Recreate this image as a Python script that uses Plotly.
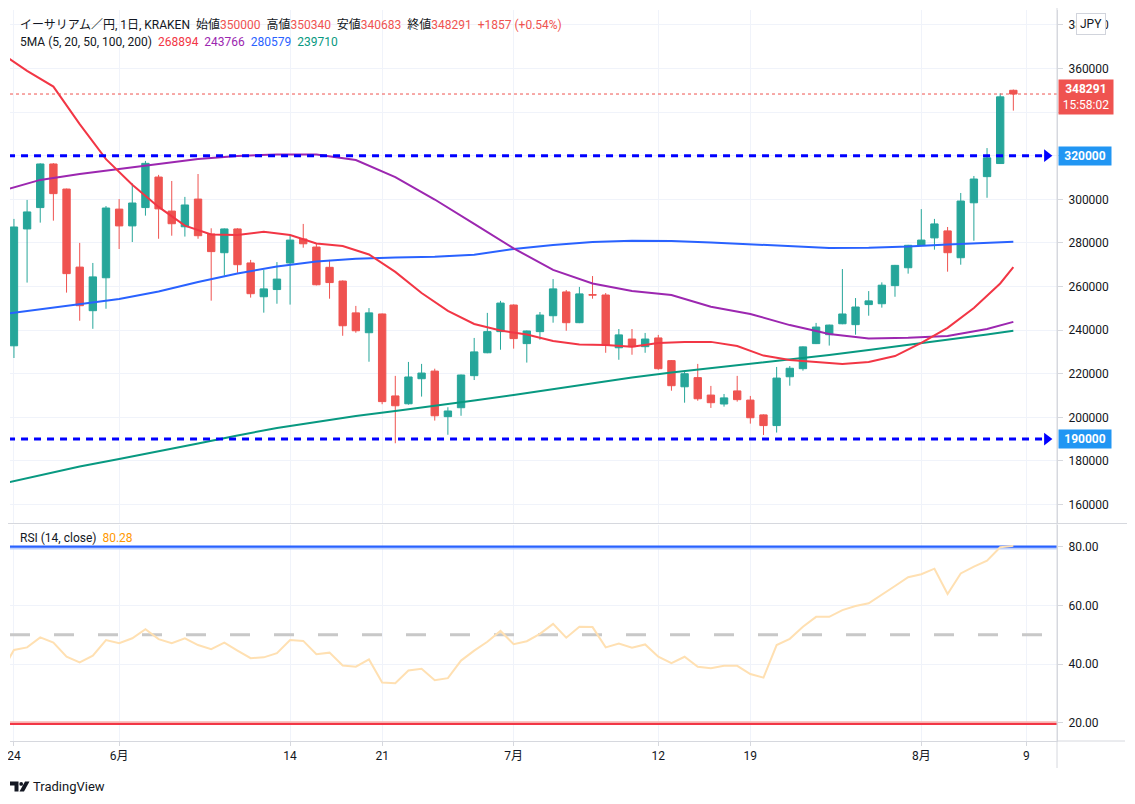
import plotly.graph_objects as go

# ---------------- data ----------------
tick_idx = [0, 8, 21, 28, 38, 49, 56, 69, 77]
tick_text = ["24", "6月", "14", "21", "7月", "12", "19", "8月", "9"]

opens = [232800, 286400, 296200, 316200, 304700, 268900, 248900, 264000, 295500, 287800,
         296200, 310200, 294600, 287400, 300100, 284100, 275500, 286400, 270800, 255300,
         258600, 270800, 281800, 278100, 268800, 262500, 247900, 238800, 247400, 209800,
         206200, 217700, 221200, 200300, 204400, 219100, 229600, 239300, 251500, 233800,
         239300, 246600, 257500, 243400, 256300, 256100, 231900, 235900, 232400, 236400,
         226000, 214000, 218200, 210200, 206100, 212100, 207900, 201100, 196200, 218600,
         222300, 233800, 237900, 242900, 242500, 251700, 252100, 260400, 268600, 278900,
         282300, 285500, 273200, 298400, 310400, 316400, 350000]
highs = [291000, 299700, 316500, 316600, 304900, 280000, 270800, 296900, 300100, 307300,
         317600, 311200, 308400, 301100, 311600, 286700, 286600, 286700, 272200, 267600,
         271200, 283600, 288700, 279800, 272200, 262800, 251100, 250100, 247600, 219000,
         225400, 224500, 222300, 204600, 219600, 236400, 247900, 253400, 251800, 239800,
         248300, 263400, 258400, 259800, 264800, 257000, 240500, 240500, 238700, 237800,
         226200, 221400, 224500, 214400, 210700, 219000, 209800, 201300, 223100, 223500,
         232500, 243300, 242500, 268000, 254700, 257900, 261900, 269900, 279100, 295500,
         291000, 287300, 302900, 310700, 323500, 348600, 350340]
lows = [227200, 261800, 289300, 290200, 257200, 244300, 240600, 249800, 277200, 280400,
        292500, 281900, 283300, 282900, 281900, 253500, 265000, 266300, 254900, 248000,
        252100, 251700, 277800, 260500, 254400, 237400, 238800, 225500, 206000, 188100,
        205800, 209500, 198500, 192000, 200700, 217100, 229400, 231000, 231500, 225100,
        235600, 243400, 239700, 243200, 254400, 229600, 226400, 228700, 229600, 221800,
        212200, 206700, 207600, 204300, 204900, 207200, 197100, 191900, 193000, 214500,
        221400, 233600, 232900, 242700, 237900, 246600, 250300, 255300, 265900, 278700,
        276900, 266800, 270000, 281000, 300700, 316300, 340683]
closes = [287300, 294200, 316200, 302600, 265900, 251200, 264400, 296000, 287800, 298300,
          316500, 295600, 288800, 297400, 283300, 276000, 286400, 270000, 256700, 258900,
          263400, 281300, 279600, 260800, 261800, 242000, 239700, 247900, 207200, 205300,
          218500, 220300, 200700, 202900, 219400, 230000, 239300, 252400, 236100, 239600,
          246900, 258900, 243400, 256600, 256000, 233000, 237800, 232400, 235900, 222300,
          214500, 220000, 208500, 206700, 208900, 208100, 199800, 196200, 218000, 222500,
          232300, 241400, 242300, 247400, 250600, 253400, 260600, 269700, 278900, 281300,
          288700, 275500, 299200, 309300, 319000, 347000, 348291]

ma20_idx = [-1, 0, 1, 3, 5, 7, 9, 11, 13, 15, 17, 19, 21, 23, 25, 27, 29, 31, 33, 35, 37, 39,
            41, 43, 45, 47, 49, 51, 53, 55, 57, 59, 61, 63, 65, 67, 69, 71, 73, 75, 76]
ma20_val = [367100, 363000, 358900, 351700, 334500, 318400, 306700, 296500, 287900, 283900,
            283600, 285100, 283600, 279700, 278600, 274700, 266700, 257000, 248800, 242800,
            239800, 238000, 235000, 233400, 233200, 232400, 234100, 234600, 234600, 232700,
            228300, 226300, 225400, 224500, 225400, 228100, 234100, 241000, 250100, 261400,
            268894]

ma_idx = [-1, 2, 5, 8, 11, 14, 17, 20, 23, 26, 29, 32, 35, 38, 41, 44, 47, 50, 53, 56, 59,
          62, 65, 68, 71, 74, 76]
ma50_val = [303800, 308900, 311600, 313900, 316000, 318500, 319900, 320600, 320600, 318000,
            310200, 299900, 288700, 277500, 267600, 261400, 257900, 256100, 250700, 247400,
            242300, 238200, 236200, 236500, 237300, 240500, 243766]
ma100_val = [247200, 249500, 251700, 254300, 257700, 262100, 266000, 269200, 271500, 272700,
             273300, 273700, 274600, 277200, 279000, 280400, 281000, 280900, 280200, 279400,
             278400, 277700, 277800, 278300, 279300, 280200, 280579]
ma200_val = [169400, 173500, 177400, 180900, 184300, 188000, 191700, 195100, 197900, 200600,
             202900, 205200, 207700, 210200, 213000, 215700, 218300, 220600, 222600, 224500,
             226500, 228600, 230900, 233200, 235700, 238000, 239710]

rsi_idx = list(range(-1, 77))
rsi_val = [37.0, 44.8, 45.7, 49.1, 47.3, 42.5, 40.6, 42.9, 48.2, 47.1, 48.8,
           51.9, 48.5, 47.1, 48.8, 46.5, 45.1, 47.3, 44.6, 42.0, 42.3,
           43.7, 48.2, 47.9, 43.4, 43.9, 39.5, 39.1, 41.6, 33.7, 33.5,
           37.8, 38.4, 34.5, 35.2, 41.2, 44.6, 47.6, 51.3, 46.8, 47.8,
           50.3, 53.7, 49.0, 52.7, 52.6, 45.7, 47.0, 45.6, 46.7, 42.5,
           40.3, 42.5, 39.1, 38.6, 39.4, 39.4, 36.6, 35.4, 46.5, 48.6,
           52.7, 56.1, 56.1, 58.4, 59.8, 60.7, 63.5, 66.6, 69.6, 70.6,
           72.5, 63.9, 70.9, 73.2, 75.2, 79.8, 80.28]

levels = [320000, 190000]
last_price = 348291
price_ticks = [160000, 180000, 200000, 220000, 240000, 260000, 280000, 300000, 320000,
               340000, 360000, 380000]
hidden_ticks = [320000, 340000]          # covered by the value boxes in the original
rsi_ticks = [20, 40, 60, 80]

# ---------------- style / geometry ----------------
OFF = 8                       # page offset of the figure (body margin)
W, H = 1135 - OFF, 804 - OFF
ML, MR, MT, MB = 10 - OFF, 78, 10 - OFF, 63
PW, PH = W - ML - MR, H - MT - MB
X_RANGE = [-0.30, 79.32]
PRICE_RANGE = [151520, 386830]
RSI_RANGE = [13.8, 87.56]

UP, DN = "#26a69a", "#ef5350"
C20, C50, C100, C200 = "#f23645", "#9c27b0", "#2962ff", "#089981"
GRID = "#f0f3fa"
AXIS = "#d6d8de"
TXT = "#131722"
FONT = "Roboto, 'Noto Sans CJK JP', sans-serif"


def px_x(px):   # page pixel -> paper
    return (px - OFF - ML) / PW


def px_y(py):
    return (OFF + H - MB - py) / PH


idx = list(range(len(opens)))
fig = go.Figure()

# wicks
for color, up in ((UP, True), (DN, False)):
    xs, ys = [], []
    for i in idx:
        if (closes[i] >= opens[i]) == up:
            xs += [i, i, None]
            ys += [lows[i], highs[i], None]
    fig.add_trace(go.Scatter(x=xs, y=ys, mode="lines", line=dict(color=color, width=1),
                             hoverinfo="skip", showlegend=False))

# bodies
body_col = [UP if c >= o else DN for o, c in zip(opens, closes)]
fig.add_trace(go.Bar(x=idx, y=[abs(c - o) for o, c in zip(opens, closes)],
                     base=[min(o, c) for o, c in zip(opens, closes)], width=0.56,
                     marker=dict(color=body_col, line=dict(color=body_col, width=1)),
                     hoverinfo="skip", showlegend=False))

# moving averages
for xs, ys, col in ((ma_idx, ma200_val, C200), (ma_idx, ma100_val, C100),
                    (ma_idx, ma50_val, C50), (ma20_idx, ma20_val, C20)):
    fig.add_trace(go.Scatter(x=xs, y=ys, mode="lines", line=dict(color=col, width=2),
                             hoverinfo="skip", showlegend=False))

# last price dotted line
fig.add_trace(go.Scatter(x=X_RANGE, y=[last_price, last_price], mode="lines",
                         line=dict(color=DN, width=1, dash="dot"), hoverinfo="skip",
                         showlegend=False))

# horizontal level lines with arrows
for lvl in levels:
    fig.add_trace(go.Scatter(x=[-0.45, 78.3], y=[lvl, lvl], mode="lines",
                             line=dict(color="#0000ff", width=3, dash="7px,6px"),
                             hoverinfo="skip", showlegend=False))
    fig.add_trace(go.Scatter(x=[-0.45, 78.55], y=[lvl, lvl], mode="markers",
                             marker=dict(symbol=["triangle-left", "triangle-right"], size=11,
                                         color="#0000ff", line=dict(width=0)),
                             cliponaxis=False, hoverinfo="skip", showlegend=False))

# RSI pane
fig.add_trace(go.Scatter(x=X_RANGE, y=[79.35, 79.35], yaxis="y2", mode="lines",
                         line=dict(color="#bcd0fe", width=2), hoverinfo="skip", showlegend=False))
fig.add_trace(go.Scatter(x=X_RANGE, y=[80, 80], yaxis="y2", mode="lines",
                         line=dict(color="#2962ff", width=2.2), hoverinfo="skip", showlegend=False))
fig.add_trace(go.Scatter(x=X_RANGE, y=[20.2, 20.2], yaxis="y2", mode="lines",
                         line=dict(color="#f8b4b2", width=2), hoverinfo="skip", showlegend=False))
fig.add_trace(go.Scatter(x=X_RANGE, y=[19.6, 19.6], yaxis="y2", mode="lines",
                         line=dict(color="#f23645", width=2.2), hoverinfo="skip", showlegend=False))
fig.add_trace(go.Scatter(x=[X_RANGE[0], 78.9], y=[50, 50], yaxis="y2", mode="lines",
                         line=dict(color="#c8c8c8", width=3, dash="20px,24px"),
                         hoverinfo="skip", showlegend=False))
fig.add_trace(go.Scatter(x=rsi_idx, y=rsi_val, yaxis="y2", mode="lines",
                         line=dict(color="#ffe0b2", width=2), hoverinfo="skip", showlegend=False))

axis_font = dict(family=FONT, size=12, color=TXT)
fig.update_layout(
    width=W, height=H, margin=dict(l=ML, r=MR, t=MT, b=MB, autoexpand=False),
    paper_bgcolor="white", plot_bgcolor="white", showlegend=False,
    xaxis=dict(range=X_RANGE, anchor="y2", tickmode="array", tickvals=tick_idx,
               ticktext=tick_text, showgrid=True, gridcolor=GRID, zeroline=False,
               showline=True, linecolor=AXIS, ticks="outside", ticklen=4, tickcolor=AXIS,
               tickfont=axis_font, automargin=False, ticklabeloverflow="allow"),
    yaxis=dict(domain=[px_y(523), 1], range=PRICE_RANGE, side="right", anchor="x",
               tickmode="array", tickvals=price_ticks,
               ticktext=["" if v in hidden_ticks else str(v) for v in price_ticks],
               showgrid=True, gridcolor=GRID, zeroline=False, showline=True, linecolor=AXIS,
               ticks="outside", ticklen=5, tickcolor=AXIS, tickfont=axis_font,
               ticklabelstandoff=3, automargin=False),
    yaxis2=dict(domain=[0, px_y(524.5)], range=RSI_RANGE, side="right", anchor="x",
                tickmode="array", tickvals=rsi_ticks, ticktext=[f"{v:.2f}" for v in rsi_ticks],
                showgrid=True, gridcolor=GRID, zeroline=False, showline=True, linecolor=AXIS,
                ticks="outside", ticklen=5, tickcolor=AXIS, tickfont=axis_font,
                ticklabelstandoff=3, automargin=False),
)

# frame lines
shapes = [
    dict(type="line", xref="paper", yref="paper", x0=px_x(OFF), x1=px_x(1129),
         y0=px_y(523.5), y1=px_y(523.5), line=dict(color=AXIS, width=1)),
    dict(type="line", xref="paper", yref="paper", x0=px_x(1057), x1=px_x(1125),
         y0=px_y(741), y1=px_y(741), line=dict(color=AXIS, width=1)),
    dict(type="line", xref="paper", yref="paper", x0=px_x(1057), x1=px_x(1057),
         y0=px_y(768), y1=px_y(OFF), line=dict(color=AXIS, width=1)),
]


def path(points):
    s = ""
    for k, (a, b) in enumerate(points):
        s += ("M" if k == 0 else "L") + f"{px_x(a):.5f},{px_y(b):.5f} "
    return s + "Z"


shapes += [
    dict(type="path", xref="paper", yref="paper", fillcolor=TXT, line=dict(width=0),
         path=path([(10, 781.5), (18.5, 781.5), (18.5, 791.5), (14.5, 791.5), (14.5, 785.5), (10, 785.5)])),
    dict(type="circle", xref="paper", yref="paper", fillcolor=TXT, line=dict(width=0),
         x0=px_x(19.3), x1=px_x(23.1), y0=px_y(785.8), y1=px_y(782)),
    dict(type="path", xref="paper", yref="paper", fillcolor=TXT, line=dict(width=0),
         path=path([(19.5, 791.5), (24, 791.5), (29.5, 781.5), (25, 781.5)])),
]
fig.update_layout(shapes=shapes)

sp = "\u00a0"
hdr1 = ("イーサリアム／円, 1日, KRAKEN" + sp * 2 +
        f"始値<span style='color:{DN}'>{opens[-1]}</span>" + sp * 2 +
        f"高値<span style='color:{DN}'>{highs[-1]}</span>" + sp * 2 +
        f"安値<span style='color:{DN}'>{lows[-1]}</span>" + sp * 2 +
        f"終値<span style='color:{DN}'>{closes[-1]}</span>" + sp * 2 +
        f"<span style='color:{DN}'>+1857 (+0.54%)</span>")
hdr2 = ("5MA (5, 20, 50, 100, 200)" + sp * 2 +
        f"<span style='color:{C20}'>{ma20_val[-1]}</span>" + sp * 2 +
        f"<span style='color:{C50}'>{ma50_val[-1]}</span>" + sp * 2 +
        f"<span style='color:{C100}'>{ma100_val[-1]}</span>" + sp * 2 +
        f"<span style='color:{C200}'>{ma200_val[-1]}</span>")
hdr3 = "RSI (14, close)" + sp * 2 + f"<span style='color:#ff9800'>{rsi_val[-1]:.2f}</span>"

ann = [
    dict(text=hdr1, x=px_x(18), y=px_y(24), xanchor="left", yanchor="middle",
         font=dict(family=FONT, size=12, color=TXT)),
    dict(text=hdr2, x=px_x(18), y=px_y(42), xanchor="left", yanchor="middle",
         font=dict(family=FONT, size=12, color=TXT)),
    dict(text=hdr3, x=px_x(18), y=px_y(538), xanchor="left", yanchor="middle",
         font=dict(family=FONT, size=12, color=TXT)),
    dict(text="JPY", x=px_x(1091), y=px_y(24), xanchor="center", yanchor="middle",
         font=dict(family=FONT, size=12, color=TXT), bgcolor="white",
         bordercolor="#d1d4dc", borderwidth=1, borderpad=3),
    dict(text=f"<b>{last_price}</b><br>15:58:02", x=px_x(1058), y=px_y(97),
         xanchor="left", yanchor="middle", width=50, height=30, borderpad=2,
         bgcolor=DN, font=dict(family=FONT, size=12, color="white")),
    dict(text="TradingView", x=px_x(31), y=px_y(786), xanchor="left", yanchor="middle",
         font=dict(family=FONT, size=13, color=TXT)),
]
for lvl in levels:
    ann.append(dict(text=f"<b>{lvl}</b>", x=px_x(1058), xref="paper", y=lvl, yref="y",
                    xanchor="left", yanchor="middle", width=48, height=14, borderpad=2,
                    bgcolor="#2196f3", font=dict(family=FONT, size=12, color="white")))
for a in ann:
    a.setdefault("xref", "paper")
    a.setdefault("yref", "paper")
    a["showarrow"] = False
fig.update_layout(annotations=ann)

fig.write_html("out.html")
